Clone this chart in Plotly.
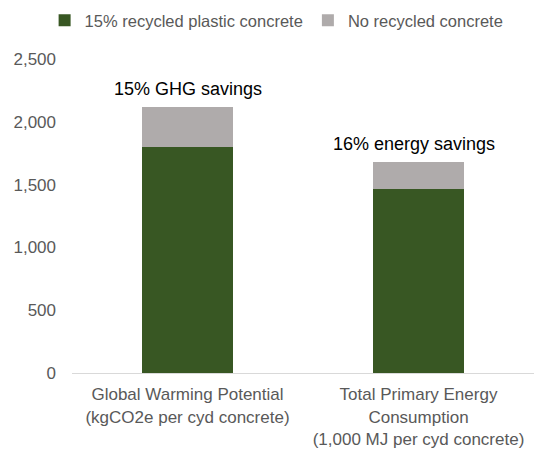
import plotly.graph_objects as go

categories = ["Global Warming Potential<br>(kgCO2e per cyd concrete)",
              "Total Primary Energy<br>Consumption<br>(1,000 MJ per cyd concrete)"]
recycled = [1797, 1465]
no_recycled_total = [2118, 1677]
extra = [t - r for t, r in zip(no_recycled_total, recycled)]
savings_labels = ["15% GHG savings", "16% energy savings"]

green = "#385723"
grey = "#AFABAB"
font = "Liberation Sans, Arial, sans-serif"

fig = go.Figure()
fig.add_trace(go.Bar(x=categories, y=recycled, name="15% recycled plastic concrete",
                     marker=dict(color=green, line=dict(width=0)), width=0.39))
fig.add_trace(go.Bar(x=categories, y=extra, name="No recycled concrete",
                     marker=dict(color=grey, line=dict(width=0)), width=0.39))

for i, (c, t, lab) in enumerate(zip(categories, no_recycled_total, savings_labels)):
    fig.add_annotation(x=c, y=t, text=lab, showarrow=False, yanchor="bottom", yshift=6,
                       xshift=-5 if i == 1 else 0,
                       font=dict(size=18, color="#000000", family=font))

fig.update_layout(
    barmode="stack",
    width=534, height=455,
    margin=dict(l=72, r=0, t=59, b=82),
    paper_bgcolor="white", plot_bgcolor="white",
    font=dict(family=font, size=17, color="#595959"),
    bargap=0.61,
    legend=dict(orientation="h", x=0.518, xanchor="center", xref="container",
                y=1 - 3 / 455, yref="container", yanchor="top",
                font=dict(size=16.5, color="#595959"),
                itemwidth=30, traceorder="normal"),
    xaxis=dict(showline=True, linecolor="#D9D9D9", linewidth=1, tickfont=dict(size=17),
               ticks="", range=[-0.5, 1.5], ticklabelstandoff=6),
    yaxis=dict(range=[0, 2500], dtick=500, tickformat=",", showgrid=False, zeroline=False,
               tickfont=dict(size=17), ticks="", ticklabelstandoff=15),
)
fig.write_html("out.html")
